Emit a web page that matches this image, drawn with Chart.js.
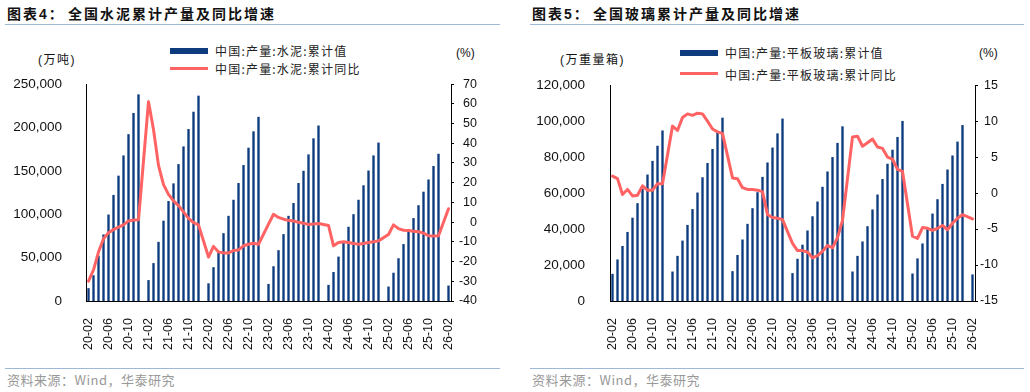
<!DOCTYPE html>
<html><head><meta charset="utf-8">
<script src="https://cdn.jsdelivr.net/npm/chart.js@4/dist/chart.umd.min.js"></script>
<style>
body{margin:0;width:1030px;height:392px;background:#fff;position:relative;overflow:hidden;font-family:"Liberation Sans",Arial,"Noto Sans CJK SC",sans-serif;}
.a{position:absolute;white-space:nowrap;}
.title{font-family:"Liberation Sans","Noto Sans CJK SC",sans-serif;font-weight:bold;font-size:14px;line-height:16px;color:#111;letter-spacing:2px;}
.rule{position:absolute;height:1px;background:#9fb8d8;}
.src{font-family:"Noto Sans CJK SC",sans-serif;font-size:13px;line-height:16px;color:#999;letter-spacing:0.5px;}
.leg{font-family:"Noto Sans CJK SC",sans-serif;font-size:12px;line-height:14px;color:#222;letter-spacing:1.2px;}
.unit{font-family:"Liberation Sans","Noto Sans CJK SC",sans-serif;font-size:12px;line-height:14px;color:#111;letter-spacing:1.5px;}
.pct{font-family:"Liberation Sans",Arial,sans-serif;font-size:12px;line-height:14px;color:#111;}
.box{position:absolute;}
</style></head>
<body>
<div class="a title" style="left:7px;top:6px;">图表4：</div>
<div class="a title" style="left:68px;top:6px;">全国水泥累计产量及同比增速</div>
<div class="rule" style="left:5px;top:24px;width:495px;"></div>
<div class="a title" style="left:532px;top:6px;">图表5：</div>
<div class="a title" style="left:593px;top:6px;">全国玻璃累计产量及同比增速</div>
<div class="rule" style="left:530px;top:24px;width:494px;"></div>

<div class="a" style="left:170px;top:48px;width:38px;height:6px;background:#0d3b7e;"></div>
<div class="a leg" style="left:215px;top:44px;">中国:产量:水泥:累计值</div>
<div class="a" style="left:170px;top:67px;width:38px;height:3px;background:#ff6363;"></div>
<div class="a leg" style="left:215px;top:62px;">中国:产量:水泥:累计同比</div>
<div class="a unit" style="left:38px;top:53px;">(万吨)</div>
<div class="a pct" style="left:456px;top:46px;">(%)</div>

<div class="a" style="left:680px;top:50px;width:38px;height:6px;background:#0d3b7e;"></div>
<div class="a leg" style="left:725px;top:46px;">中国:产量:平板玻璃:累计值</div>
<div class="a" style="left:680px;top:72px;width:38px;height:3px;background:#ff6363;"></div>
<div class="a leg" style="left:725px;top:68px;">中国:产量:平板玻璃:累计同比</div>
<div class="a unit" style="left:560px;top:53px;">(万重量箱)</div>
<div class="a pct" style="left:979px;top:46px;">(%)</div>

<div class="box" style="left:0;top:60px;width:515px;height:300px;"><canvas id="c1" width="515" height="300"></canvas></div>
<div class="box" style="left:515px;top:60px;width:515px;height:300px;"><canvas id="c2" width="515" height="300"></canvas></div>

<div class="rule" style="left:5px;top:368px;width:495px;"></div>
<div class="a src" style="left:7px;top:372px;">资料来源：Wind，华泰研究</div>
<div class="rule" style="left:530px;top:368px;width:494px;"></div>
<div class="a src" style="left:532px;top:372px;">资料来源：Wind，华泰研究</div>

<script>
const months = [
"20-02","20-03","20-04","20-05","20-06","20-07","20-08","20-09","20-10","20-11","20-12",
"21-01","21-02","21-03","21-04","21-05","21-06","21-07","21-08","21-09","21-10","21-11","21-12",
"22-01","22-02","22-03","22-04","22-05","22-06","22-07","22-08","22-09","22-10","22-11","22-12",
"23-01","23-02","23-03","23-04","23-05","23-06","23-07","23-08","23-09","23-10","23-11","23-12",
"24-01","24-02","24-03","24-04","24-05","24-06","24-07","24-08","24-09","24-10","24-11","24-12",
"25-01","25-02","25-03","25-04","25-05","25-06","25-07","25-08","25-09","25-10","25-11","25-12",
"26-01","26-02"];

const cementCum = [
14400,29300,51900,76300,99300,121900,144100,167400,191900,216300,237800,
null,23700,43300,67800,92200,114900,135200,157400,177800,197800,217800,236300,
null,20000,38600,56000,77800,97800,116300,135600,156300,176300,195200,211900,
null,19300,39700,58200,76700,97800,112600,135600,149700,168600,187100,201900,
null,18200,33000,50800,67400,85200,99700,116300,133000,150000,167400,182200,
null,16300,32200,48900,65200,80000,95200,110000,125600,139700,155200,169300,
null,17400];

const cementYoY = [
-29.9,-24.2,-15.2,-8.4,-5.4,-3.8,-2.5,-1.4,0.6,1.1,1.2,
null,61.0,47.0,28.8,19.0,14.1,10.8,8.4,5.2,1.9,-0.2,-1.4,
null,-17.7,-12.3,-15.2,-15.6,-15.6,-14.4,-14.1,-12.0,-11.2,-10.7,-11.2,
null,-1.0,4.0,2.4,1.5,0.9,0.6,-0.1,-0.6,-1.2,-1.0,-0.7,
null,-1.7,-12.0,-10.3,-10.0,-10.3,-10.8,-11.2,-10.8,-10.3,-10.0,-9.5,
null,-6.3,-1.4,-3.3,-4.1,-4.3,-4.6,-4.9,-5.6,-6.9,-7.0,-6.9,
null,6.8];

const glassCum = [
14900,22900,30400,38200,46100,54200,62200,70100,77700,86100,94600,
null,16200,24900,33400,42100,50900,60100,68600,76500,84300,93200,101700,
null,16400,25400,34000,42700,51400,60300,68800,76800,85100,93000,101200,
null,15300,23300,31100,39000,46900,55100,63300,71800,79800,87700,96900,
null,16200,24900,32900,41400,50700,59000,67600,76100,83900,91000,99900,
null,15100,23500,31800,40000,48400,56400,64900,72900,80700,88400,97600,
null,14600];

const glassYoY = [
2.35,2.0,-0.2,0.5,-0.4,-0.3,1.0,0.4,0.4,1.3,1.3,
null,9.3,8.7,10.5,11.0,10.8,11.1,11.0,10.0,8.9,8.5,8.3,
null,2.1,2.0,0.75,0.5,0.5,0.4,0.2,-3.0,-3.4,-3.5,-3.7,
null,-7.0,-8.0,-8.0,-8.2,-9.0,-8.7,-8.1,-7.3,-7.6,-6.2,-3.8,
null,7.8,7.9,6.5,7.0,7.5,6.4,6.2,5.0,4.7,3.3,3.0,
null,-6.0,-6.3,-4.8,-4.9,-5.2,-4.9,-4.5,-5.1,-4.2,-3.5,-3.0,
null,-3.6];

const cementNames = ["中国:产量:水泥:累计值","中国:产量:水泥:累计同比"];
const glassNames = ["中国:产量:平板玻璃:累计值","中国:产量:平板玻璃:累计同比"];
const cementLeftAxis = [0, 250000, 50000];
const cementRightAxis = [-40, 70, 10];
const glassLeftAxis = [0, 120000, 20000];
const glassRightAxis = [-15, 15, 5];

const BAR = '#0d3b7e';
const LINE = '#ff6363';
const NUMFONT = '"Liberation Sans", Arial, sans-serif';

function build(id, cum, yoy, names, la, ra, d) {
  new Chart(document.getElementById(id), {
    type: 'bar',
    data: {
      labels: months,
      datasets: [
        {type:'line', label:names[1], data:yoy, yAxisID:'y2', borderColor:LINE, backgroundColor:LINE,
         borderWidth:3, pointRadius:0, spanGaps:true, tension:0, order:0,
         borderJoinStyle:'round', borderCapStyle:'round'},
        {type:'bar', label:names[0], data:cum, yAxisID:'y', backgroundColor:BAR, borderWidth:0,
         barThickness:1.7, order:1}
      ]
    },
    options: {
      responsive:false, animation:false, devicePixelRatio:1,
      layout:{padding:{top:16,bottom:0,left:0,right:d.pr}},
      plugins:{legend:{display:false}, tooltip:{enabled:false}},
      scales:{
        x:{
          grid:{display:false},
          border:{display:true,color:'#000',width:1},
          ticks:{autoSkip:false, minRotation:90, maxRotation:90, padding:9, color:'#111',
                 font:{size:12.5, family:NUMFONT},
                 callback:(v,i)=> (i%4===0 ? months[i] : '')},
          afterFit:s=>{s.height=d.xh;}
        },
        y:{
          position:'left', min:la[0], max:la[1],
          grid:{display:false},
          border:{display:true,color:'#000',width:1},
          ticks:{stepSize:la[2], padding:d.lp, color:'#111', font:{size:13.5, family:NUMFONT},
                 callback:v=>Number(v).toLocaleString('en-US')},
          afterFit:s=>{s.width=d.lw;}
        },
        y2:{
          position:'right', min:ra[0], max:ra[1],
          grid:{display:true, drawOnChartArea:false, drawTicks:true, tickLength:3, color:'#000', tickColor:'#000'},
          border:{display:true,color:'#000',width:1},
          ticks:{stepSize:ra[2], padding:4, crossAlign:'far', color:'#111', font:{size:12.5, family:NUMFONT}},
          afterFit:s=>{s.width=d.rw;}
        }
      }
    }
  });
}

build('c1', cementCum, cementYoY, cementNames, cementLeftAxis, cementRightAxis, {xh:59, lw:86, rw:26, pr:38, lp:16});
build('c2', glassCum, glassYoY, glassNames, glassLeftAxis, glassRightAxis, {xh:59, lw:95, rw:23, pr:32, lp:17});
</script>
</body></html>
